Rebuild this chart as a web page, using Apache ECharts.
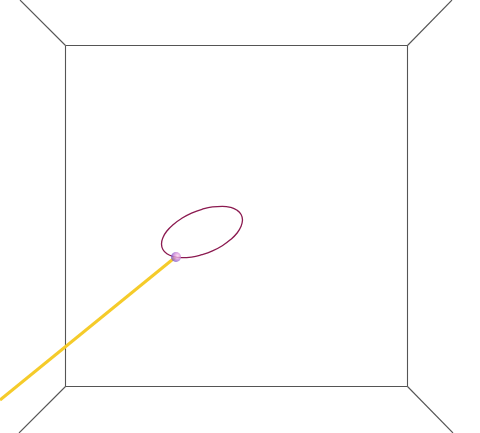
<!DOCTYPE html>
<html>
<head>
<meta charset="utf-8">
<script src="https://cdn.jsdelivr.net/npm/echarts@6/dist/echarts.min.js"></script>
<style>html,body{margin:0;padding:0;background:#fff}#main{width:480px;height:433px}</style>
</head>
<body>
<div id="main"></div>
<script>
// Projected box (back wall + receding edges), in picture coordinates
var backWall = [[65.5,45.5],[407.5,45.5],[407.5,386.5],[65.5,386.5],[65.5,45.5]];
var edgeTopLeft = [[65.5,45.5],[20,0]];
var edgeTopRight = [[407.5,45.5],[452,0]];
var edgeBottomLeft = [[65.5,386.5],[19,433]];
var edgeBottomRight = [[407.5,386.5],[453,433]];
// Closed curve (ring)
var ring = [[242.5,220.0],[241.1,226.3],[237.1,233.0],[230.6,239.6],[222.3,245.7],[212.5,250.9],[202.0,254.7],
  [191.5,257.1],[181.8,257.7],[173.4,256.6],[166.9,253.8],[162.9,249.5],[161.5,244.0],[162.9,237.7],
  [166.9,231.0],[173.4,224.4],[181.8,218.3],[191.5,213.2],[202.0,209.3],[212.5,206.9],[222.3,206.3],
  [230.6,207.4],[237.1,210.3],[241.1,214.5],[242.5,220.0]];
// Straight path toward the viewer
var ray = [[175,257.5],[0,400]];
// Marker point
var marker = [[176,257]];

var chart = echarts.init(document.getElementById('main'), null, {renderer:'canvas'});
function edge(d){
  return {type:'line', data:d, symbol:'none', silent:true, animation:false,
    lineStyle:{color:'#555', width:1.1}};
}
chart.setOption({
  animation:false,
  grid:{left:0,right:0,top:0,bottom:0},
  xAxis:{type:'value',min:0,max:480,show:false},
  yAxis:{type:'value',min:0,max:433,inverse:true,show:false},
  series:[
    edge(backWall), edge(edgeTopLeft), edge(edgeTopRight), edge(edgeBottomLeft), edge(edgeBottomRight),
    {type:'line', data:ring, smooth:true, symbol:'none', lineStyle:{color:'#8b1a50', width:1.3}},
    {type:'line', data:ray, symbol:'none', lineStyle:{color:'#f5cb2a', width:3}},
    {type:'scatter', data:marker, symbolSize:10, z:5,
      itemStyle:{color:{type:'radial',x:0.65,y:0.4,r:0.75,colorStops:[{offset:0,color:'#ffd6ee'},{offset:0.45,color:'#d08ad8'},{offset:1,color:'#5548c8'}]}}}
  ]
});
</script>
</body>
</html>
